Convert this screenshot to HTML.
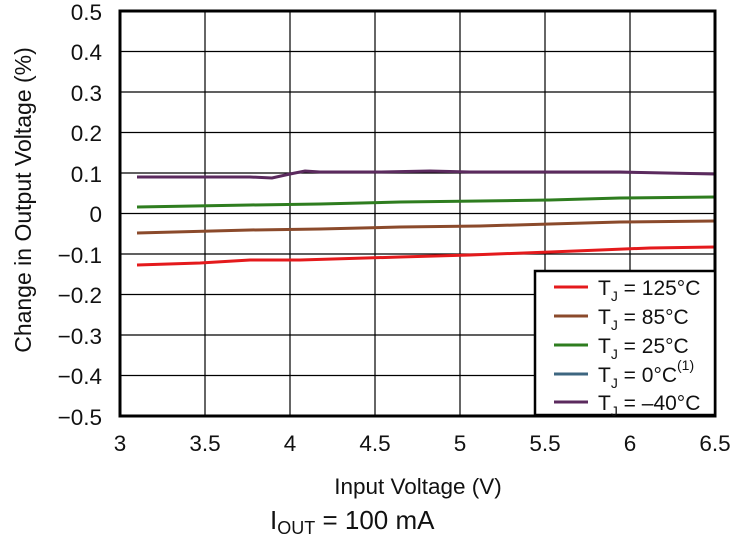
<!DOCTYPE html>
<html><head><style>body{margin:0;background:#fff}svg{display:block}</style></head><body>
<svg width="753" height="555" xmlns="http://www.w3.org/2000/svg" font-family="Liberation Sans, Arial, sans-serif">
<rect width="753" height="555" fill="#fff"/>
<g stroke="#000" stroke-width="1.2">
<line x1="205" y1="11" x2="205" y2="416"/><line x1="290" y1="11" x2="290" y2="416"/><line x1="375" y1="11" x2="375" y2="416"/><line x1="460" y1="11" x2="460" y2="416"/><line x1="545" y1="11" x2="545" y2="416"/><line x1="630" y1="11" x2="630" y2="416"/>
<line x1="120" y1="51.5" x2="715" y2="51.5"/><line x1="120" y1="92" x2="715" y2="92"/><line x1="120" y1="132.5" x2="715" y2="132.5"/><line x1="120" y1="173" x2="715" y2="173"/><line x1="120" y1="213.5" x2="715" y2="213.5"/><line x1="120" y1="254" x2="715" y2="254"/><line x1="120" y1="294.5" x2="715" y2="294.5"/><line x1="120" y1="335" x2="715" y2="335"/><line x1="120" y1="375.5" x2="715" y2="375.5"/>
</g>
<g fill="none" stroke-width="3">
<path d="M137 265 L200 263 L250 260 L300 260 L400 257 L470 255 L550 252 L600 250 L650 248 L715 247" stroke="#e41a1c"/>
<path d="M137 233 L250 230 L320 229 L400 227 L480 226 L550 224 L620 222 L715 221" stroke="#8b4a2b"/>
<path d="M137 207 L250 205 L320 204 L400 202 L480 201 L550 200 L620 198 L715 197" stroke="#2e7d1f"/>
<path d="M137 177 L250 177 L272 178 L290 174 L305 171 L320 172 L380 172 L430 171 L470 172 L520 172 L620 172 L715 174" stroke="#5b2a5e"/>
</g>
<rect x="120" y="11" width="595" height="405" fill="none" stroke="#000" stroke-width="3"/>
<rect x="535" y="271" width="180" height="144" fill="#fff" stroke="#000" stroke-width="2.5"/>
<g stroke-width="3">
<line x1="554" y1="287" x2="588" y2="287" stroke="#e41a1c"/>
<line x1="554" y1="316" x2="588" y2="316" stroke="#8b4a2b"/>
<line x1="554" y1="345" x2="588" y2="345" stroke="#2e7d1f"/>
<line x1="554" y1="374" x2="588" y2="374" stroke="#3d6680"/>
<line x1="554" y1="402" x2="588" y2="402" stroke="#5b2a5e"/>
</g>
<g font-size="21" fill="#111">
<text x="598" y="295">T<tspan font-size="14" dy="6">J</tspan><tspan dy="-6"> = 125°C</tspan></text>
<text x="598" y="324">T<tspan font-size="14" dy="6">J</tspan><tspan dy="-6"> = 85°C</tspan></text>
<text x="598" y="353">T<tspan font-size="14" dy="6">J</tspan><tspan dy="-6"> = 25°C</tspan></text>
<text x="598" y="382">T<tspan font-size="14" dy="6">J</tspan><tspan dy="-6"> = 0°C</tspan><tspan font-size="14" dy="-12">(1)</tspan></text>
<text x="598" y="410">T<tspan font-size="14" dy="6">J</tspan><tspan dy="-6"> = –40°C</tspan></text>
</g>
<g font-size="22.5" fill="#111" text-anchor="end">
<text x="102" y="20">0.5</text><text x="102" y="60">0.4</text><text x="102" y="101">0.3</text><text x="102" y="141">0.2</text><text x="102" y="182">0.1</text><text x="102" y="222">0</text><text x="102" y="263">−0.1</text><text x="102" y="303">−0.2</text><text x="102" y="344">−0.3</text><text x="102" y="384">−0.4</text><text x="102" y="425">−0.5</text>
</g>
<g font-size="22.5" fill="#111" text-anchor="middle">
<text x="120" y="451">3</text><text x="205" y="451">3.5</text><text x="290" y="451">4</text><text x="375" y="451">4.5</text><text x="460" y="451">5</text><text x="545" y="451">5.5</text><text x="630" y="451">6</text><text x="715" y="451">6.5</text>
<text x="418" y="494">Input Voltage (V)</text>
<text transform="translate(31,200) rotate(-90)" font-size="23">Change in Output Voltage (%)</text>
</g>
<text x="270" y="529" font-size="26" fill="#111">I<tspan font-size="18" dy="5">OUT</tspan><tspan dy="-5"> = 100 mA</tspan></text>
</svg>
</body></html>
